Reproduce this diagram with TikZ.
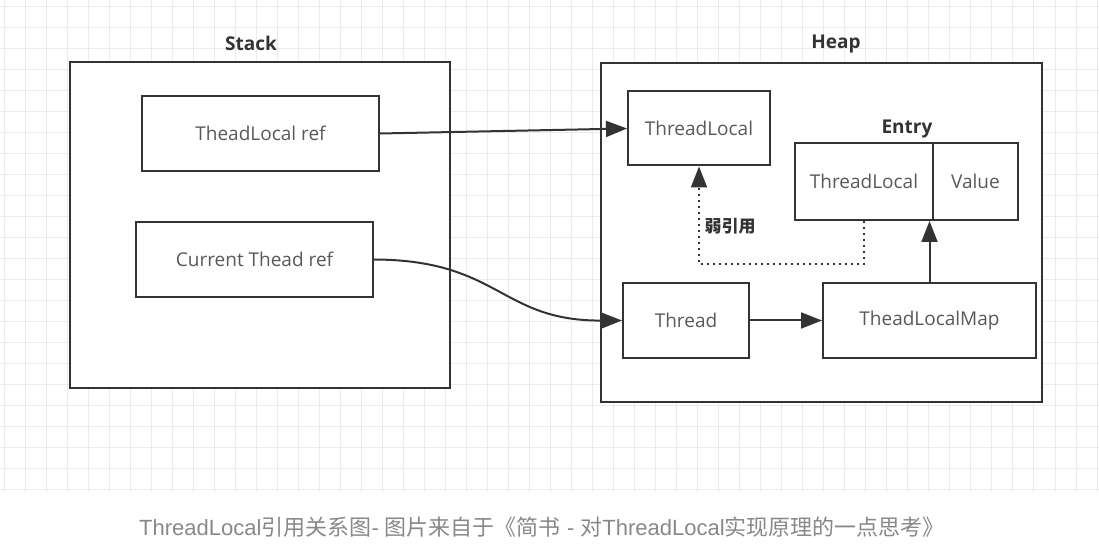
\documentclass[tikz,border=0pt]{standalone}
\usepackage{fontspec}
\setmainfont{Open Sans}
\newfontfamily\cjk{Noto Sans CJK SC}
\newfontfamily\capfont{Liberation Sans}
\usetikzlibrary{arrows.meta}
\definecolor{lineC}{HTML}{333333}
\definecolor{textC}{HTML}{595959}
\definecolor{capC}{HTML}{888888}
\definecolor{gridC}{HTML}{EBEBEB}

\begin{document}
\begin{tikzpicture}[x=0.5pt,y=-0.5pt,>={Triangle[length=10.5pt,width=8pt]},
  box/.style={draw=lineC,line width=1pt,fill=white,text=textC,inner sep=0pt,
    font=\fontsize{9.5}{11}\selectfont},
  title/.style={text=lineC,font=\bfseries\fontsize{9.5}{11}\selectfont},
  link/.style={->,draw=lineC,line width=1pt}]
  \useasboundingbox (0,0) rectangle (1099,555);

  % Grid background
  \foreach \i in {0,...,52}
    \draw[gridC,line width=0.5pt] ({4+21.02*\i},0) -- ({4+21.02*\i},492);
  \foreach \j in {0,...,23}
    \draw[gridC,line width=0.5pt] (0,{6.5+21*\j}) -- (1099,{6.5+21*\j});

  % Stack area
  \node[box,minimum width=190pt,minimum height=163pt] (stack) at (260,225) {};
  \node[title] (stackLbl) at (251,43) {Stack};
  \node[box,minimum width=118.5pt,minimum height=37.5pt] (tlref) at (260.5,133.5) {TheadLocal ref};
  \node[box,minimum width=118.5pt,minimum height=37.5pt] (ctref) at (254.5,259.5) {Current Thead ref};

  % Heap area
  \node[box,minimum width=220.5pt,minimum height=169.5pt] (heap) at (821.5,232.5) {};
  \node[title] (heapLbl) at (836,44) {Heap};
  \node[box,minimum width=71pt,minimum height=37pt] (tl) at (699,128.5) {ThreadLocal};
  \node[box,minimum width=63pt,minimum height=37.5pt] (thread) at (686,320.5) {Thread};
  \node[box,minimum width=106.5pt,minimum height=37.5pt] (map) at (929.5,320.5) {TheadLocalMap};

  % Entry (key | value)
  \node[title] (entryLbl) at (907,129) {Entry};
  \node[box,minimum width=69pt,minimum height=38.5pt] (eTL) at (864,181.5) {ThreadLocal};
  \node[box,minimum width=42.5pt,minimum height=38.5pt] (eVal) at (975.5,181.5) {Value};

  % References
  \draw[link] (tlref.east) -- (tl.west);
  \draw[link] (ctref.east) .. controls (500,260) and (500,321) .. (thread.west);
  \draw[link] (thread.east) -- (map.west);
  \draw[link] (map.north) -- (map.north |- eTL.south);

  % Weak reference from entry key
  \draw[link,dotted] (eTL.south) -- ++(0,43) -| (tl.south);
  \node[text=lineC,font=\cjk\bfseries\fontsize{8.5}{10}\selectfont] (weakLbl) at (730,226) {弱引用};

  % Caption
  \node[text=capC,font=\fontsize{11}{13}\selectfont] (caption) at (542,527)
    {\capfont ThreadLocal\cjk 引用关系图\capfont- \cjk 图片来自于《简书\capfont\ - \cjk 对\capfont ThreadLocal\cjk 实现原理的一点思考》};
\end{tikzpicture}
\end{document}
